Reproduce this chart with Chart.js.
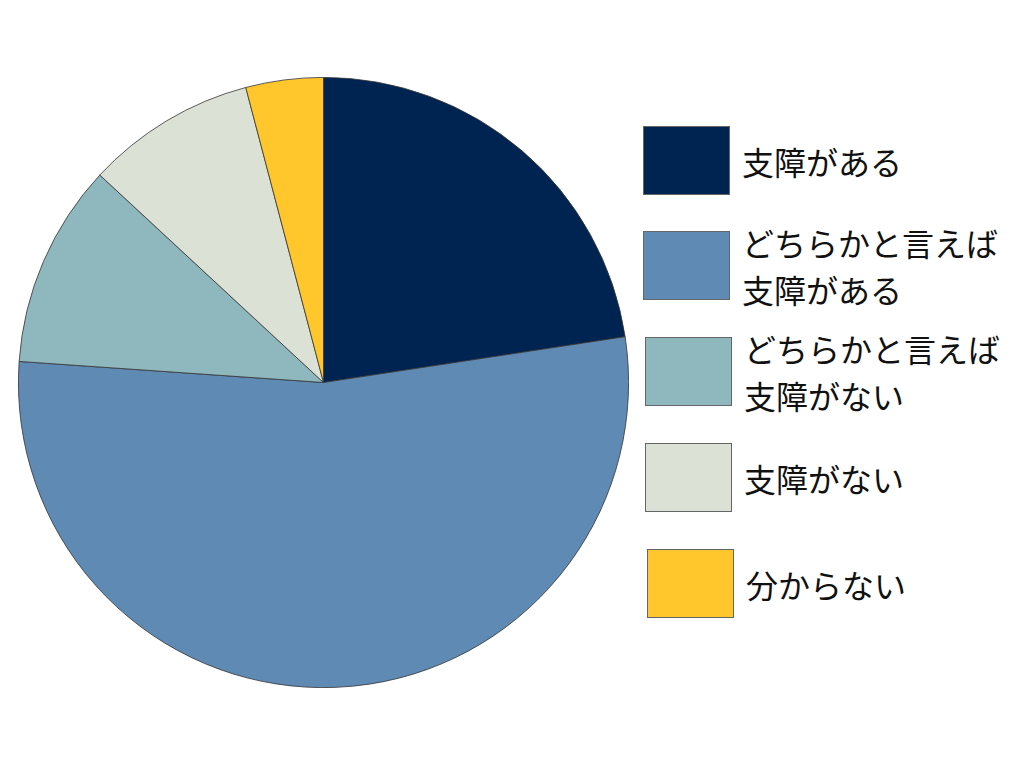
<!DOCTYPE html>
<html>
<head>
<meta charset="utf-8">
<script src="https://cdn.jsdelivr.net/npm/chart.js@4/dist/chart.umd.min.js"></script>
<style>
  html, body { margin:0; padding:0; background:#fff; width:1024px; height:768px; overflow:hidden; }
  #wrap { position:absolute; left:18px; top:77px; width:611px; height:611px; }
  .lg-box { position:absolute; width:87px; height:69px; box-sizing:border-box; border:1px solid #666; }
  .lg-text { position:absolute; font-family:"Noto Sans CJK JP","Noto Sans",sans-serif; font-size:32px; line-height:47px; color:#111; white-space:nowrap; }
</style>
</head>
<body>
<div id="wrap"><canvas id="c"></canvas></div>
<div id="legend"></div>
<script>
const labels = [
  ["支障がある"],
  ["どちらかと言えば", "支障がある"],
  ["どちらかと言えば", "支障がない"],
  ["支障がない"],
  ["分からない"]
];
const values = [22.6, 53.5, 10.8, 9.0, 4.1];
const colors = ["#002452", "#5E8AB4", "#8FB8BE", "#DCE1D5", "#FFC72C"];

new Chart(document.getElementById('c'), {
  type: 'pie',
  data: {
    labels: labels.map(l => l.join('')),
    datasets: [{
      data: values,
      backgroundColor: colors,
      borderColor: '#333333',
      borderWidth: 0.8
    }]
  },
  options: {
    responsive: true,
    maintainAspectRatio: false,
    animation: false,
    layout: { padding: 0 },
    plugins: { legend: { display: false }, tooltip: { enabled: false } }
  }
});

// legend built from the same arrays
const boxPos = [[643,126],[643,231],[645,337],[645,443],[647,549]];
const legend = document.getElementById('legend');
labels.forEach((lines, i) => {
  const b = document.createElement('div');
  b.className = 'lg-box';
  b.style.left = boxPos[i][0] + 'px';
  b.style.top = boxPos[i][1] + 'px';
  b.style.background = colors[i];
  legend.appendChild(b);
  const t = document.createElement('div');
  t.className = 'lg-text';
  t.style.left = (boxPos[i][0] + 99) + 'px';
  const centerY = boxPos[i][1] + 35;
  t.style.top = (centerY - lines.length * 47 / 2) + 'px';
  t.innerHTML = lines.join('<br>');
  legend.appendChild(t);
});
</script>
</body>
</html>
